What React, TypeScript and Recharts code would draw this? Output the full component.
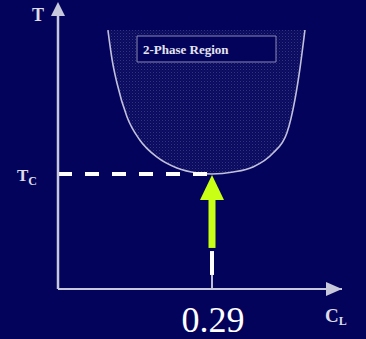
import { ComposedChart, Area, Line, XAxis, YAxis, ReferenceLine, ReferenceDot, ReferenceArea } from "recharts";

document.body.style.margin = "0";

// liquid concentration C_L vs temperature (T_C = 1)
const conc = [0.094, 0.102, 0.111, 0.13, 0.154, 0.186, 0.224, 0.262, 0.29, 0.33, 0.367, 0.405, 0.431, 0.446, 0.456, 0.465];
const temp = [2.252, 1.991, 1.791, 1.496, 1.296, 1.148, 1.052, 1.009, 1.0, 1.017, 1.061, 1.183, 1.357, 1.643, 1.93, 2.252];
const regionTop = 2.252;
const critical = { c: 0.29, t: 1.0 };
const xTicks = [0.29];
const yTicks = [1];

const data = conc.map((c, i) => ({ c, t: temp[i], band: [temp[i], regionTop] }));

const BG = "#03035c";
const AXIS = "#c8c8dc";
const GREEN = "#c8ff14";
const serif = "'Liberation Serif', 'DejaVu Serif', serif";

const XTick = ({ x, y, payload }: any) => (
  <text x={x + 1} y={y + 35} textAnchor="middle" fontSize={36} fill="#ffffff" fontFamily={serif}>
    {payload.value.toFixed(2)}
  </text>
);

const YTick = ({ x, y }: any) => (
  <text x={x - 13} y={y + 7} textAnchor="end" fontSize={17} fontWeight="bold" fill="#dcdce8" fontFamily={serif}>
    T<tspan fontSize={12} dy={4}>C</tspan>
  </text>
);

const upArrow = ({ cx, cy }: any) => (
  <polygon points={`${cx},${cy - 6} ${cx - 7},${cy + 8} ${cx + 7},${cy + 8}`} fill={AXIS} />
);
const rightArrow = ({ cx, cy }: any) => (
  <polygon points={`${cx},${cy} ${cx - 16},${cy - 7} ${cx - 16},${cy + 7}`} fill={AXIS} />
);
const greenHead = ({ cx, cy }: any) => (
  <polygon points={`${cx},${cy + 1} ${cx - 12},${cy + 26} ${cx + 12},${cy + 26}`} fill={GREEN} />
);

export default function App() {
  return (
    <div style={{ width: 366, height: 339, background: BG }}>
      <ComposedChart width={366} height={339} data={data} margin={{ top: 8, right: 24, left: 0, bottom: 0 }}>
        <defs>
          <pattern id="dots" width="3" height="3" patternUnits="userSpaceOnUse">
            <rect width="3" height="3" fill="#0a0a60" />
            <rect width="1" height="1" fill="#34347a" />
            <rect x="1.5" y="1.5" width="1" height="1" fill="#1c1c6a" />
          </pattern>
        </defs>
        <XAxis
          type="number"
          dataKey="c"
          domain={[0, 0.5348]}
          ticks={xTicks}
          tick={XTick}
          tickLine={false}
          height={50}
          axisLine={{ stroke: AXIS, strokeWidth: 2 }}
          label={({ viewBox }: any) => (
            <text x={viewBox.x + viewBox.width - 17} y={viewBox.y + 33} fontSize={19} fontWeight="bold" fill="#dcdce8" fontFamily={serif}>
              C<tspan fontSize={12} dy={3}>L</tspan>
            </text>
          )}
        />
        <YAxis
          type="number"
          domain={[0, 2.4435]}
          ticks={yTicks}
          tick={YTick}
          tickLine={false}
          width={58}
          axisLine={{ stroke: AXIS, strokeWidth: 2.5 }}
          label={({ viewBox }: any) => (
            <text x={viewBox.x + viewBox.width - 14} y={viewBox.y + 13} textAnchor="end" fontSize={18} fontWeight="bold" fill="#dcdce8" fontFamily={serif}>
              T
            </text>
          )}
        />
        <Area
          type="monotone"
          dataKey="band"
          stroke="none"
          fill="url(#dots)"
          fillOpacity={1}
          isAnimationActive={false}
        />
        <Line type="monotone" dataKey="t" stroke="#c0c0dc" strokeWidth={1.6} dot={false} isAnimationActive={false} />
        <ReferenceArea
          x1={0.1488}
          x2={0.4105}
          y1={1.974}
          y2={2.2}
          fill={BG}
          fillOpacity={1}
          stroke="#8a8ab4"
          strokeWidth={1}
          label={{ value: "2-Phase Region", position: "insideLeft", offset: 6, fill: "#e4e4f0", fontSize: 13, fontWeight: "bold", fontFamily: serif }}
        />
        <ReferenceLine
          segment={[{ x: 0, y: critical.t }, { x: critical.c, y: critical.t }]}
          stroke="#ffffff"
          strokeWidth={4}
          strokeDasharray="14 13"
        />
        <ReferenceLine
          segment={[{ x: critical.c, y: 0.774 }, { x: critical.c, y: 0.357 }]}
          stroke={GREEN}
          strokeWidth={7}
        />
        <ReferenceLine
          segment={[{ x: critical.c, y: 0.122 }, { x: critical.c, y: 0.33 }]}
          stroke="#ffffff"
          strokeWidth={4}
        />
        <ReferenceLine
          segment={[{ x: critical.c, y: 0 }, { x: critical.c, y: 0.122 }]}
          stroke="#ffffff"
          strokeWidth={1.5}
        />
        <ReferenceDot x={critical.c} y={critical.t} shape={greenHead} />
        <ReferenceDot x={0} y={2.4435} shape={upArrow} ifOverflow="visible" />
        <ReferenceDot x={0.5348} y={0} shape={rightArrow} ifOverflow="visible" />
      </ComposedChart>
    </div>
  );
}
